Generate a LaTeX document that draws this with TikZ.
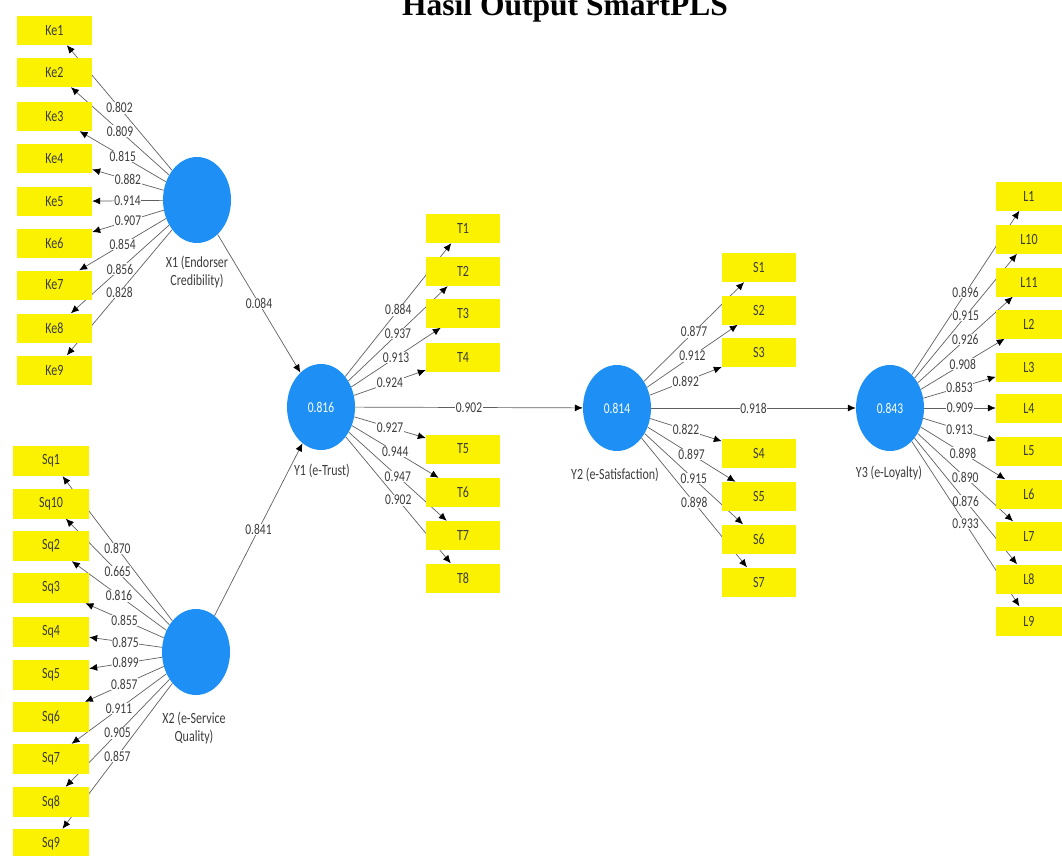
\documentclass[tikz,border=0pt]{standalone}
\usepackage{fontspec}
\usepackage{graphicx}
\newfontfamily\cf{Carlito}
\newfontfamily\tf{Liberation Serif}
\usetikzlibrary{shapes.geometric,arrows.meta}
\pgfdeclarelayer{bg}
\pgfsetlayers{bg,main}
\definecolor{indy}{RGB}{250,242,0}
\definecolor{lvb}{RGB}{30,144,245}
\definecolor{lnc}{RGB}{95,95,95}
\definecolor{txc}{RGB}{60,60,60}
\newcommand\vs[1]{\scalebox{1}[1.3]{#1}}
\begin{document}
\begin{tikzpicture}[x=1pt,y=-1pt,
  indbox/.style={rectangle, fill=indy, minimum width=75pt, minimum height=29pt, inner sep=0pt, text=txc, font=\cf\fontsize{12}{14}\selectfont},
  lbox/.style={indbox, minimum width=66pt},
  lv/.style={ellipse, fill=lvb, minimum width=68pt, minimum height=86pt, inner sep=0pt, text=white, font=\cf\fontsize{11.5}{13}\selectfont},
  lvcap/.style={align=center, text=txc, font=\cf\fontsize{12}{18}\selectfont},
  lbl/.style={fill=white, inner sep=0.6pt, text=txc, font=\cf\fontsize{11.5}{13}\selectfont},
  ld/.style={draw=lnc, line width=0.7pt, -{Latex[length=8pt,width=7pt,color=black]}},
]
\clip (0,0) rectangle (1062,856);
\useasboundingbox (0,0) rectangle (1062,856);

% title
\node[font=\tf\bfseries\fontsize{31.5}{34}\selectfont, anchor=base] (title) at (565,16) {Hasil Output SmartPLS};

% latent variables
\node[lv] (X1) at (197,200) {};
\node[lv] (X2) at (196,652) {};
\node[lv] (Y1) at (321,407) {\vs{0.816}};
\node[lv] (Y2) at (617,408) {\vs{0.814}};
\node[lv] (Y3) at (890,408) {\vs{0.843}};

\node[lvcap] (X1c) at (197,272) {\vs{X1 (Endorser}\\\vs{Credibility)}};
\node[lvcap] (X2c) at (194,728) {\vs{X2 (e-Service}\\\vs{Quality)}};
\node[lvcap] (Y1c) at (322,471) {\vs{Y1 (e-Trust)}};
\node[lvcap] (Y2c) at (615,475) {\vs{Y2 (e-Satisfaction)}};
\node[lvcap] (Y3c) at (889,473) {\vs{Y3 (e-Loyalty)}};

% indicators
\foreach \n/\y in {1/30.5,2/72.5,3/116.5,4/158.5,5/201.5,6/243.5,7/285,8/328,9/370}
  \node[indbox] (Ke\n) at (54.5,\y) {\vs{Ke\n}};
\foreach \n/\y in {1/461,10/503.5,2/546,3/588,4/632,5/674.5,6/717,7/759,8/802,9/844}
  \node[indbox, minimum width=76pt, minimum height=30pt] (Sq\n) at (51,\y) {\vs{Sq\n}};
\foreach \n/\y in {1/228.5,2/271.5,3/313,4/357,5/449,6/492.5,7/535.5,8/578}
  \node[indbox, minimum width=74pt] (T\n) at (463,\y) {\vs{T\n}};
\foreach \n/\y in {1/267.5,2/310,3/352.5,4/453,5/496.5,6/539,7/582}
  \node[indbox, minimum width=74pt] (S\n) at (759,\y) {\vs{S\n}};
\foreach \n/\y in {1/196,10/239,11/282,2/324,3/367,4/408,5/451,6/494,7/536,8/579,9/621}
  \node[lbox] (L\n) at (1029,\y) {\vs{L\n}};

\begin{pgfonlayer}{bg}
\foreach \n/\v in {1/0.802,2/0.809,3/0.815,4/0.882,5/0.914,6/0.907,7/0.854,8/0.856,9/0.828}
  \draw[ld] (X1) -- node[lbl]{\vs{\v}} (Ke\n);
\foreach \n/\v in {1/0.870,10/0.665,2/0.816,3/0.855,4/0.875,5/0.899,6/0.857,7/0.911,8/0.905,9/0.857}
  \draw[ld] (X2) -- node[lbl]{\vs{\v}} (Sq\n);
\foreach \n/\v in {1/0.884,2/0.937,3/0.913,4/0.924,5/0.927,6/0.944,7/0.947,8/0.902}
  \draw[ld] (Y1) -- node[lbl]{\vs{\v}} (T\n);
\foreach \n/\v in {1/0.877,2/0.912,3/0.892,4/0.822,5/0.897,6/0.915,7/0.898}
  \draw[ld] (Y2) -- node[lbl]{\vs{\v}} (S\n);
\foreach \n/\v in {1/0.896,10/0.915,11/0.926,2/0.908,3/0.853,4/0.909,5/0.913,6/0.898,7/0.890,8/0.876,9/0.933}
  \draw[ld] (Y3) -- node[lbl]{\vs{\v}} (L\n);
\draw[ld] (X1) -- node[lbl]{\vs{0.084}} (Y1);
\draw[ld] (X2) -- node[lbl]{\vs{0.841}} (Y1);
\draw[ld] (Y1) -- node[lbl]{\vs{0.902}} (Y2);
\draw[ld] (Y2) -- node[lbl]{\vs{0.918}} (Y3);
\end{pgfonlayer}
\end{tikzpicture}
\end{document}
